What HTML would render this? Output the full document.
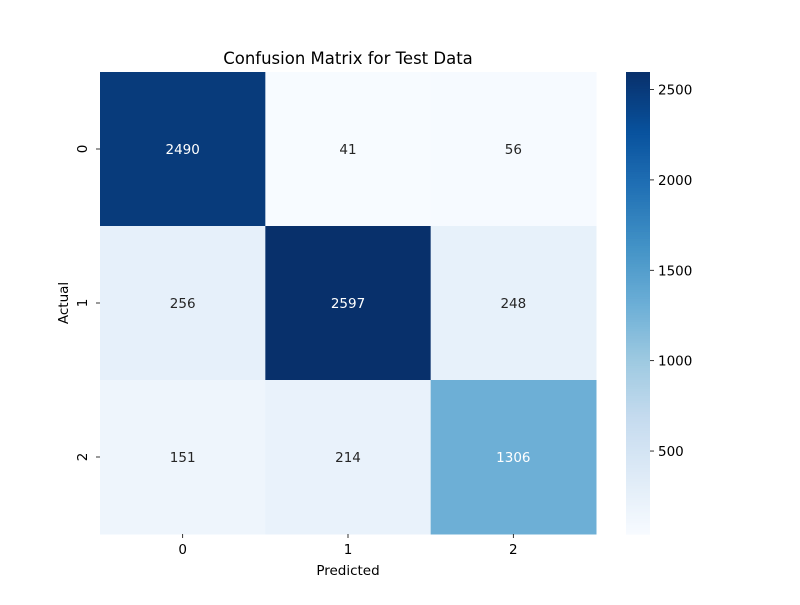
<!DOCTYPE html>
<html><head><meta charset="utf-8"><style>
body{margin:0;background:#fff;font-family:"Liberation Sans","DejaVu Sans",sans-serif;}
svg text{font-family:"DejaVu Sans","Liberation Sans",sans-serif;}
</style></head><body>
<svg id="chart" width="800" height="600" xmlns="http://www.w3.org/2000/svg">
<rect width="800" height="600" fill="#fff"/>
<text x="348" y="64" font-size="16.5" text-anchor="middle">Confusion Matrix for Test Data</text>
<g id="cells"></g>
<g id="axes"></g>
<g id="cbar"></g>
<text x="348" y="575" font-size="13.5" text-anchor="middle">Predicted</text>
<text transform="translate(68,303) rotate(-90)" font-size="13.5" text-anchor="middle">Actual</text>
</svg>
<script>
const labels = ["0","1","2"];
const row0 = [2490, 41, 56];
const row1 = [256, 2597, 248];
const row2 = [151, 214, 1306];
const matrix = [row0, row1, row2];
const cbarTicks = [500, 1000, 1500, 2000, 2500];

const NS = "http://www.w3.org/2000/svg";
const X0 = 100, X1 = 596, Y0 = 72, Y1 = 534;
const all = matrix.flat();
const vmin = Math.min(...all), vmax = Math.max(...all);
const stops = ["#f7fbff","#deebf7","#c6dbef","#9ecae1","#6baed6","#4292c6","#2171b5","#08519c","#08306b"].map(h=>[1,3,5].map(i=>parseInt(h.substr(i,2),16)));
function cmap(t){t=Math.max(0,Math.min(1,t));const p=t*8,i=Math.min(7,Math.floor(p)),f=p-i;return stops[i].map((c,k)=>c+(stops[i+1][k]-c)*f);}
function rgb(c){return `rgb(${c.map(Math.round).join(",")})`;}
function lum(c){const l=c.map(v=>{v/=255;return v<=0.03928?v/12.92:Math.pow((v+0.055)/1.055,2.4)});return 0.2126*l[0]+0.7152*l[1]+0.0722*l[2];}
function mk(tag,attrs,parent){const e=document.createElementNS(NS,tag);for(const k in attrs)e.setAttribute(k,attrs[k]);parent.appendChild(e);return e;}
const n = labels.length, cw=(X1-X0)/n, ch=(Y1-Y0)/n;
const xs = i=>X0+i*cw, ys = j=>Y0+j*ch;
const cells=document.getElementById("cells"), axes=document.getElementById("axes"), cb=document.getElementById("cbar");
matrix.forEach((row,j)=>row.forEach((v,i)=>{
  const c=cmap((v-vmin)/(vmax-vmin));
  const r=mk("rect",{x:xs(i),y:ys(j),width:cw+0.5,height:ch+0.5,fill:rgb(c)},cells);
  
  
  const t=mk("text",{x:xs(i)+cw/2,y:ys(j)+ch/2+5,"font-size":"13.5","text-anchor":"middle",fill:lum(c)<0.408?"#fff":"#262626"},cells);
  t.textContent=v;
  
  
}));
labels.forEach((l,i)=>{
  const cx=xs(i)+cw/2;
  mk("line",{x1:cx,x2:cx,y1:Y1,y2:Y1+4,stroke:"#000","stroke-width":0.8},axes);
  const t=mk("text",{x:cx,y:Y1+20,"font-size":"13.5","text-anchor":"middle"},axes);
  t.textContent=l;
  
  
  const cy=ys(i)+ch/2;
  mk("line",{x1:X0-4,x2:X0,y1:cy,y2:cy,stroke:"#000","stroke-width":0.8},axes);
  const u=mk("text",{transform:`translate(${X0-13},${cy}) rotate(-90)`,"font-size":"13.5","text-anchor":"middle"},axes);
  u.textContent=l;
  
  
});
// colorbar
const CX=626, CW=24;
const cyv=v=>Y1-(v-vmin)/(vmax-vmin)*(Y1-Y0);
for(let k=0;k<200;k++){
  const y0=Y1-(k+1)*(Y1-Y0)/200;
  mk("rect",{x:CX,y:y0,width:CW,height:(Y1-Y0)/200+0.6,fill:rgb(cmap((k+0.5)/200))},cb);
}
cbarTicks.forEach(v=>{
  const y=cyv(v);
  mk("line",{x1:CX+CW,x2:CX+CW+4,y1:y,y2:y,stroke:"#000","stroke-width":0.8},cb);
  const t=mk("text",{x:CX+CW+8,y:y+5,"font-size":"13.5"},cb);
  t.textContent=v;
  
  
});
</script>
</body></html>
